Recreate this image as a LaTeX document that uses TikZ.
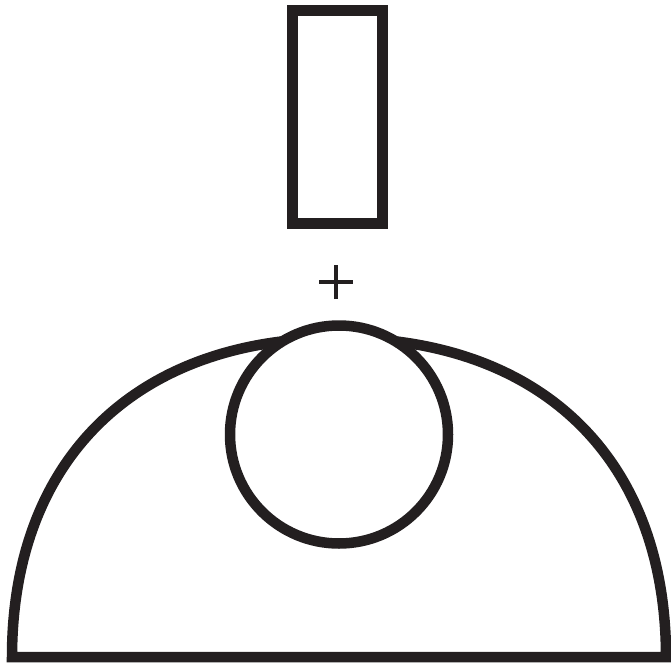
\documentclass[tikz,border=0pt]{standalone}
\definecolor{ink}{HTML}{231F20}
\begin{document}
\begin{tikzpicture}[x=1pt,y=-1pt,
  thick outline/.style={draw=ink, line width=10.5pt},
  crosshair/.style={draw=ink, line width=4pt}]
\useasboundingbox (0,0) rectangle (671,663);
% upper rectangle
\draw[thick outline] (292.5,10.5) rectangle (382.5,223.5);
% plus marker
\coordinate (pc) at (336,282);
\draw[crosshair] ([xshift=-17pt]pc) -- ([xshift=17pt]pc) ([yshift=-17pt]pc) -- ([yshift=17pt]pc);
% dome
\draw[thick outline, miter limit=10] (12,657) .. controls (12,459) and (136.3,338) .. (339,338)
   .. controls (541.7,338) and (666,459) .. (666,657) -- cycle;
% circle
\draw[thick outline, fill=white] (339,434.5) circle[radius=109pt];
\end{tikzpicture}
\end{document}
